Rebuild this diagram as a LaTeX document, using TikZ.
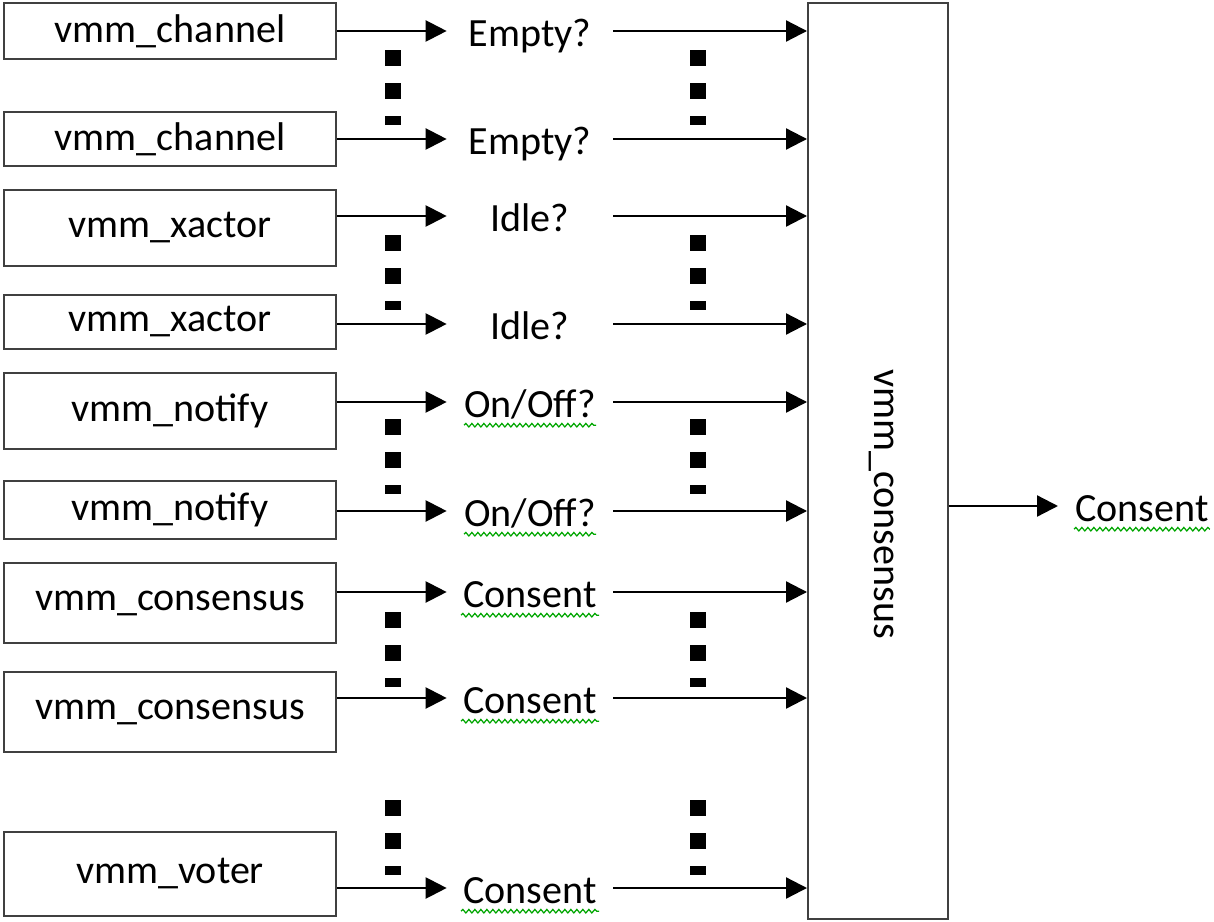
\documentclass[tikz,border=0pt]{standalone}
\usepackage{fontspec}
\setmainfont{Carlito}
\usetikzlibrary{arrows.meta,decorations.pathmorphing}

\tikzset{
  srcbox/.style={draw=black!75, line width=0.04cm, minimum width=6.66cm, inner sep=0pt},
  chklabel/.style={inner sep=0pt, minimum width=3.32cm, anchor=mid},
  flow/.style={-{Triangle[length=0.42cm,width=0.42cm]}, line width=0.045cm},
  squiggle/.style={draw=green!65!black, line width=0.025cm, decorate,
    decoration={snake, segment length=0.12cm, amplitude=0.035cm}},
}

\begin{document}
\begin{tikzpicture}[x=0.02cm,y=-0.02cm,font=\fontsize{22.8pt}{27pt}\selectfont]
    \useasboundingbox (0,0) rectangle (1214,922);
    \node[draw=black!75, line width=0.04cm, minimum width=2.8cm, minimum height=18.32cm, inner sep=0pt] (cons) at (878,461) {};
    \node[rotate=-90, inner sep=0pt] (consname) at (882,504) {vmm\_consensus};
    \foreach \n/\t/\c/\h/\a/\l in {1/vmm\_channel/31/1.12/31/Empty?,
                                   2/vmm\_channel/139/1.08/139/Empty?,
                                   3/vmm\_xactor/228/1.54/216/Idle?,
                                   4/vmm\_xactor/322/1.10/324/Idle?,
                                   5/vmm\_notify/411/1.54/402/{On/Off?},
                                   6/vmm\_notify/510/1.18/511/{On/Off?},
                                   7/vmm\_consensus/603/1.60/592/Consent,
                                   8/vmm\_consensus/712/1.62/698/Consent,
                                   9/vmm\_voter/874/1.68/888/Consent}
    {
      \node[srcbox, minimum height=\h cm] (src\n) at (170,\c) {\t};
      \node[chklabel] (chk\n) at (530,\a+11) {\l};
      \draw[flow] (src\n.east |- 0,\a) -- (chk\n.west |- 0,\a);
      \draw[flow] (chk\n.east |- 0,\a) -- (cons.west |- 0,\a);
    }
    \foreach \n/\w in {5/66,6/66,7/69,8/69,9/69}
      \draw[squiggle] ([xshift=-\w*0.02cm,yshift=-0.16cm]chk\n.base) -- ([xshift=\w*0.02cm,yshift=-0.16cm]chk\n.base);
    \foreach \t in {50,235,419,612,800}
      \foreach \x in {385,690} {
        \fill (\x,\t) rectangle ++(16,16);
        \fill (\x,\t+33) rectangle ++(16,16);
        \fill (\x,\t+66) rectangle ++(16,9);
      }
    \node[anchor=mid west, inner xsep=0.34cm, inner ysep=0pt] (res) at (1058,517) {Consent};
    \draw[flow] (cons.east |- 0,506) -- (res.west |- 0,506);
    \draw[squiggle] ([xshift=-1.36cm,yshift=-0.16cm]res.base) -- ([xshift=1.36cm,yshift=-0.16cm]res.base);
\end{tikzpicture}
\end{document}
